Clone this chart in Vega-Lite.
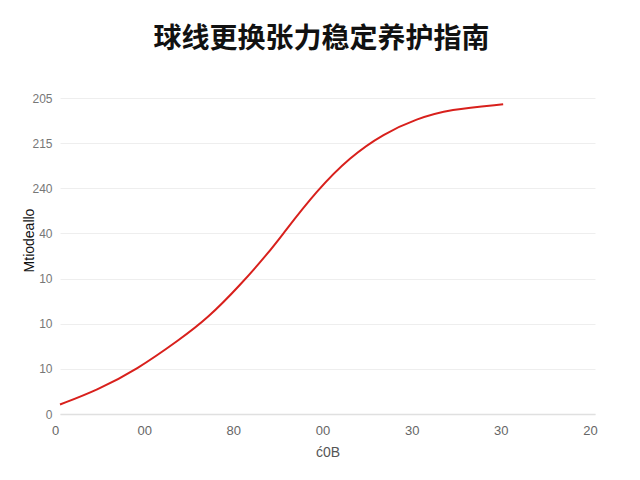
{
  "$schema": "https://vega.github.io/schema/vega-lite/v6.json",
  "width": 535,
  "height": 316,
  "autosize": {"type": "none"},
  "padding": {"left": 60, "top": 98, "right": 45, "bottom": 66},
  "background": "white",
  "config": {
    "view": {"stroke": "transparent"},
    "font": "Liberation Sans"
  },
  "title": {
    "text": "球线更换张力稳定养护指南",
    "font": "Noto Sans CJK SC",
    "fontSize": 28,
    "fontWeight": "bold",
    "color": "#111111",
    "anchor": "middle",
    "frame": "group",
    "dx": -6,
    "offset": 38
  },
  "data": {
    "values": [
      {"x": 0.0, "y": 2.1},
      {"x": 0.41, "y": 5.2},
      {"x": 0.86, "y": 9.8},
      {"x": 1.35, "y": 16.6},
      {"x": 1.65, "y": 21.1},
      {"x": 2.02, "y": 28.5},
      {"x": 2.35, "y": 36.0},
      {"x": 2.5, "y": 39.9},
      {"x": 2.88, "y": 49.5},
      {"x": 3.25, "y": 56.9},
      {"x": 3.63, "y": 62.1},
      {"x": 4.0, "y": 65.4},
      {"x": 4.37, "y": 67.5},
      {"x": 4.97, "y": 68.6}
    ]
  },
  "mark": {"type": "line", "color": "#d8201c", "strokeWidth": 2, "interpolate": "basis"},
  "encoding": {
    "x": {
      "field": "x",
      "type": "quantitative",
      "scale": {"domain": [0, 6], "nice": false, "zero": false},
      "axis": {
        "title": "ć0B",
        "values": [0, 1, 2, 3, 4, 5, 6],
        "labelExpr": "['0','00','80','00','30','30','20'][datum.value]",
        "labelFlush": false,
        "grid": false,
        "ticks": false,
        "domain": true,
        "domainColor": "#e0e0e0",
        "domainWidth": 1.5,
        "labelColor": "#666666",
        "labelFontSize": 13,
        "labelPadding": 10,
        "labelOffset": -5,
        "titleColor": "#555555",
        "titleFontSize": 14,
        "titleFontWeight": "normal",
        "titlePadding": 8
      }
    },
    "y": {
      "field": "y",
      "type": "quantitative",
      "scale": {"domain": [0, 70], "nice": false},
      "axis": {
        "title": "Mtiodeallo",
        "values": [0, 10, 20, 30, 40, 50, 60, 70],
        "labelExpr": "['0','10','10','10','40','240','215','205'][datum.value / 10]",
        "grid": true,
        "gridColor": "#eeeeee",
        "ticks": false,
        "domain": false,
        "labelColor": "#777777",
        "labelFontSize": 12,
        "labelPadding": 8,
        "titleColor": "#111111",
        "titleFontSize": 14,
        "titleFontWeight": "normal",
        "titleX": -24,
        "titleY": 142
      }
    }
  }
}
